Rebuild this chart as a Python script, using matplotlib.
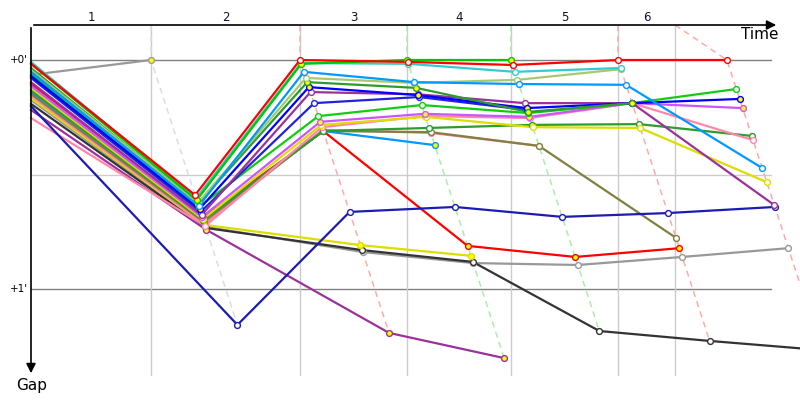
import numpy as np
import matplotlib
matplotlib.use("Agg")
from matplotlib import pyplot as plt

# leader time at end of each lap (s) and lap marks on the time axis
leader_time = [96.4, 216.1, 302.0, 385.5, 471.5, 559.0]
lap_marks = [96.4, 216.1, 302.0, 385.5, 471.5, 517.3]
lap_labels = ["1", "2", "3", "4", "5", "6"]
gap_ticks = [0, 30, 60]
gap_tick_labels = ["+0'", "", "+1'"]

N = np.nan
# gap to leader (s): start, lap1 .. lap6
gap_red = [1.0, 35.4, 0.0, 0.5, 1.3, 0.0, 0.0]
gap_green = [1.0, 36.7, 1.0, 0.0, 0.0, N, N]
gap_cyan = [0.5, 36.2, 0.8, 1.0, 3.1, 2.1, N]
gap_lblue = [3.1, 38.3, 3.1, 5.8, 6.3, 6.5, 28.3]
gap_olive = [2.6, 37.5, 4.7, 6.0, 5.2, 2.4, N]
gap_dgreen = [2.1, 37.7, 5.8, 7.3, 13.6, 11.3, N]
gap_blue = [4.2, 39.0, 7.1, 9.2, 12.6, 11.3, 10.2]
gap_purple = [5.8, 40.6, 8.4, 9.0, 11.3, 11.3, 38.0]
gap_navy = [12.1, 69.4, 39.8, 38.5, 41.1, 40.1, 38.5]
gap_blue2 = [4.7, 39.8, 11.3, 9.7, 13.1, N, N]
gap_green2 = [3.7, 38.5, 14.7, 11.8, 13.9, 11.3, 7.6]
gap_magenta = [6.8, 41.1, 16.2, 14.1, 14.9, 11.3, 12.6]
gap_yellow = [7.3, 41.7, 17.0, 14.9, 17.6, 17.8, 32.0]
gap_pink = [15.2, 43.5, 17.6, 14.7, 15.2, 11.3, 21.0]
gap_brown = [8.9, 42.4, 18.6, 18.9, 22.5, 46.6, N]
gap_pink2 = [9.4, 43.0, 18.3, 19.1, 22.5, N, N]
gap_dgreen2 = [7.9, 41.9, 18.6, 17.8, 17.0, 16.8, 19.9]
gap_lblue2 = [8.4, 41.9, 18.6, 22.3, N, N, N]
gap_red2 = [6.3, 41.4, 18.6, 48.7, 51.6, 49.3, N]
gap_yellow2 = [10.0, 43.2, 48.5, 51.3, N, N, N]
gap_black = [11.5, 44.0, 49.8, 52.9, 71.0, 73.6, 76.0]
gap_grey2 = [10.5, 43.7, 50.3, 53.2, 53.7, 51.6, 49.3]
gap_purple2 = [13.1, 44.5, 71.5, 78.1, N, N, N]
gap_grey = [3.9, 0.0, N, N, N, N, N]

drivers = [gap_grey, gap_grey2, gap_black, gap_yellow2, gap_purple2, gap_red2,
           gap_lblue2, gap_pink2, gap_brown, gap_dgreen2, gap_pink, gap_yellow,
           gap_magenta, gap_green2, gap_blue2, gap_navy, gap_purple, gap_blue,
           gap_dgreen, gap_olive, gap_lblue, gap_cyan, gap_green, gap_red]
colors = ["#999999", "#999999", "#333333", "#dddd00", "#993399", "#ff0000",
          "#0099ff", "#ff88aa", "#808040", "#2e9b2e", "#ff88aa", "#dddd00",
          "#cc55ff", "#11cc11", "#2222dd", "#1c1cb4", "#993399", "#0000ff",
          "#2e9b2e", "#a8c870", "#0099ff", "#33cccc", "#00c800", "#ff0000"]
fills = ["#ffff00", "w", "w", "#ffff00", "#ffff00", "#ffff00",
         "#ffff00", "#ffff00", "w", "w", "w", "w",
         "#ffff00", "w", "w", "w", "w", "#ffff00",
         "#ffff00", "w", "w", "w", "#ffff00", "w"]
lap_line_colors = ["#dddddd", "#ffaaaa", "#aaeeaa", "#aaeeaa", "#ffaaaa", "#ffaaaa"]

# pixel scale of the original picture
SX = 1.245  # px per second of time
SY = 3.817  # px per second of gap
def tx(px):
    return (px - 31) / SX
def gy(py):
    return (py - 60) / SY

fig = plt.figure(figsize=(8, 4), dpi=100)
ax = fig.add_axes([0, 0, 1, 1])
ax.set_xlim(tx(0), tx(800))
ax.set_ylim(gy(400), gy(0))
ax.axis("off")

# grid
for g in gap_ticks:
    c = "#cccccc" if g == 30 else "#808080"
    ax.plot([0, tx(771)], [g, g], color=c, lw=1, zorder=1)
for m in lap_marks:
    ax.plot([m, m], [gy(25), gy(375)], color="#cccccc", lw=1, zorder=1)

def xy(gaps):
    xs, ys = [], []
    for i, g in enumerate(gaps):
        if np.isnan(g):
            continue
        xs.append(0 if i == 0 else leader_time[i - 1] + g)
        ys.append(g)
    return xs, ys

# lap lines
for j in range(1, 7):
    pts = []
    for d in drivers:
        if not np.isnan(d[j]):
            pts.append((leader_time[j - 1] + d[j], d[j]))
    pts.sort(key=lambda p: p[1])
    px = [lap_marks[j - 1]] + [p[0] for p in pts]
    py = [gy(25)] + [p[1] for p in pts]
    ax.plot(px, py, color=lap_line_colors[j - 1], lw=1.1, ls=(0, (4, 3)), zorder=1.5)

for d, c, f in zip(drivers, colors, fills):
    xs, ys = xy(d)
    ax.plot(xs, ys, color=c, lw=1.6, zorder=2, solid_joinstyle="round")
    ax.plot(xs[1:], ys[1:], ls="none", marker="o", ms=4.2, mfc=f, mec=c, mew=1, zorder=3)

# axes with arrows
ax.annotate("", xy=(tx(779), gy(25)), xytext=(0, gy(25)),
            arrowprops=dict(arrowstyle="-|>", color="black", lw=1.2, mutation_scale=14), zorder=4)
ax.annotate("", xy=(0, gy(376)), xytext=(0, gy(25)),
            arrowprops=dict(arrowstyle="-|>", color="black", lw=1.2, mutation_scale=14), zorder=4)

edges = [0] + lap_marks
for i, lab in enumerate(lap_labels):
    ax.text((edges[i] + edges[i + 1]) / 2, gy(18), lab, ha="center", va="center",
            fontsize=8.5, color="#101030")
for g, lab in zip(gap_ticks, gap_tick_labels):
    if lab:
        ax.text(tx(28), g, lab, ha="right", va="center", fontsize=7.5)
ax.text(tx(760), gy(35), "Time", ha="center", va="center", fontsize=11)
ax.text(tx(32), gy(386), "Gap", ha="center", va="center", fontsize=11)

fig.savefig("out.png", dpi=100)
